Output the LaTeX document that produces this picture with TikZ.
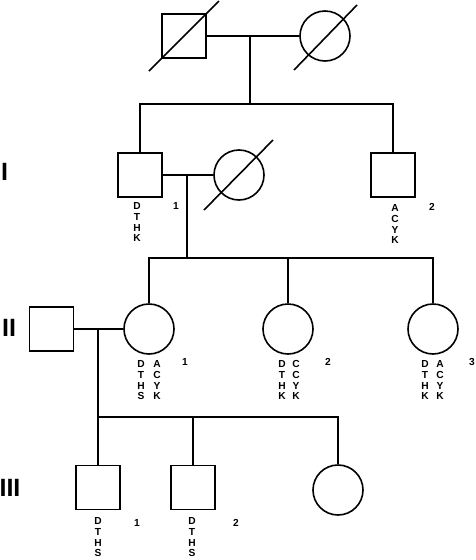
\documentclass[tikz,border=0pt]{standalone}
\usepackage{fontspec}
\setmainfont{Liberation Sans}
\usepackage{tikz}
\usetikzlibrary{calc}

\tikzset{
    male/.style={draw, rectangle, minimum size=44pt, inner sep=0pt},
    female/.style={draw, circle, minimum size=50pt, inner sep=0pt},
    geno/.style={font=\fontsize{10.2}{10.6}\selectfont\bfseries, align=center, anchor=north, inner sep=0pt},
    gen/.style={font=\fontsize{25}{25}\selectfont\bfseries, inner sep=0pt}
}

\begin{document}
\begin{tikzpicture}[x=1pt,y=-1pt,line width=1.6pt]
        \useasboundingbox (0,0) rectangle (475,560);
        \node[male] (gf) at (184,36) {};
        \node[female] (gm) at (325,36) {};
        \draw (gf) ++(-35,35) -- ++(70,-70);
        \draw (gm) ++(-31,34) -- ++(63,-65);
        \coordinate (m0) at (250,36);
        \coordinate (s0) at (250,104);
        \draw (gf.east) -- (gm.west);
        \draw (m0) -- (s0);

        \node[gen] (g1) at (4.5,172) {I};
        \node[male] (a1) at (140,175) {};
        \node[female] (aw) at (239,175) {};
        \node[male] (a2) at (393,175) {};
        \draw (aw) ++(-35,35) -- ++(69,-70);
        \draw (a1.north) |- (s0) -| (a2.north);
        \draw (a1.east) -- (aw.west);
        \coordinate (m1) at (187,175);
        \coordinate (s1) at (187,258);
        \draw (m1) -- (s1);
        \node[geno] (a1g) at (137,202) {D\\T\\H\\K};
        \node[geno] (a1n) at (176,202) {1};
        \node[geno] (a2g) at (395,204) {A\\C\\Y\\K};
        \node[geno] (a2n) at (432,203) {2};

        \node[gen] (g2) at (9,328) {II};
        \node[male] (bh) at (51.5,329) {};
        \node[female] (b1) at (149,329) {};
        \node[female] (b2) at (288,329) {};
        \node[female] (b3) at (433,329) {};
        \draw (b1.north) |- (s1) -| (b3.north);
        \draw (b2.north) -- (b2.north |- s1);
        \draw (bh.east) -- (b1.west);
        \coordinate (m2) at (98,329);
        \coordinate (s2) at (98,417);
        \draw (m2) -- (s2);
        \node[geno] (b1g) at (141,360) {D\\T\\H\\S};
        \node[geno] (b1h) at (157,360) {A\\C\\Y\\K};
        \node[geno] (b1n) at (185,358) {1};
        \node[geno] (b2g) at (282,360) {D\\T\\H\\K};
        \node[geno] (b2h) at (296,360) {C\\C\\Y\\K};
        \node[geno] (b2n) at (328,358) {2};
        \node[geno] (b3g) at (425,360) {D\\T\\H\\K};
        \node[geno] (b3h) at (440,360) {A\\C\\Y\\K};
        \node[geno] (b3n) at (472,358) {3};

        \node[gen] (g3) at (10,488) {III};
        \node[male] (c1) at (98,487.5) {};
        \node[male] (c2) at (193,487.5) {};
        \node[female] (c3) at (338,490) {};
        \draw (c1.north) |- (s2) -| (c3.north);
        \draw (c2.north) -- (c2.north |- s2);
        \node[geno] (c1g) at (98,517) {D\\T\\H\\S};
        \node[geno] (c1n) at (137,519) {1};
        \node[geno] (c2g) at (192,517) {D\\T\\H\\S};
        \node[geno] (c2n) at (236,519) {2};
    \end{tikzpicture}
\end{document}
